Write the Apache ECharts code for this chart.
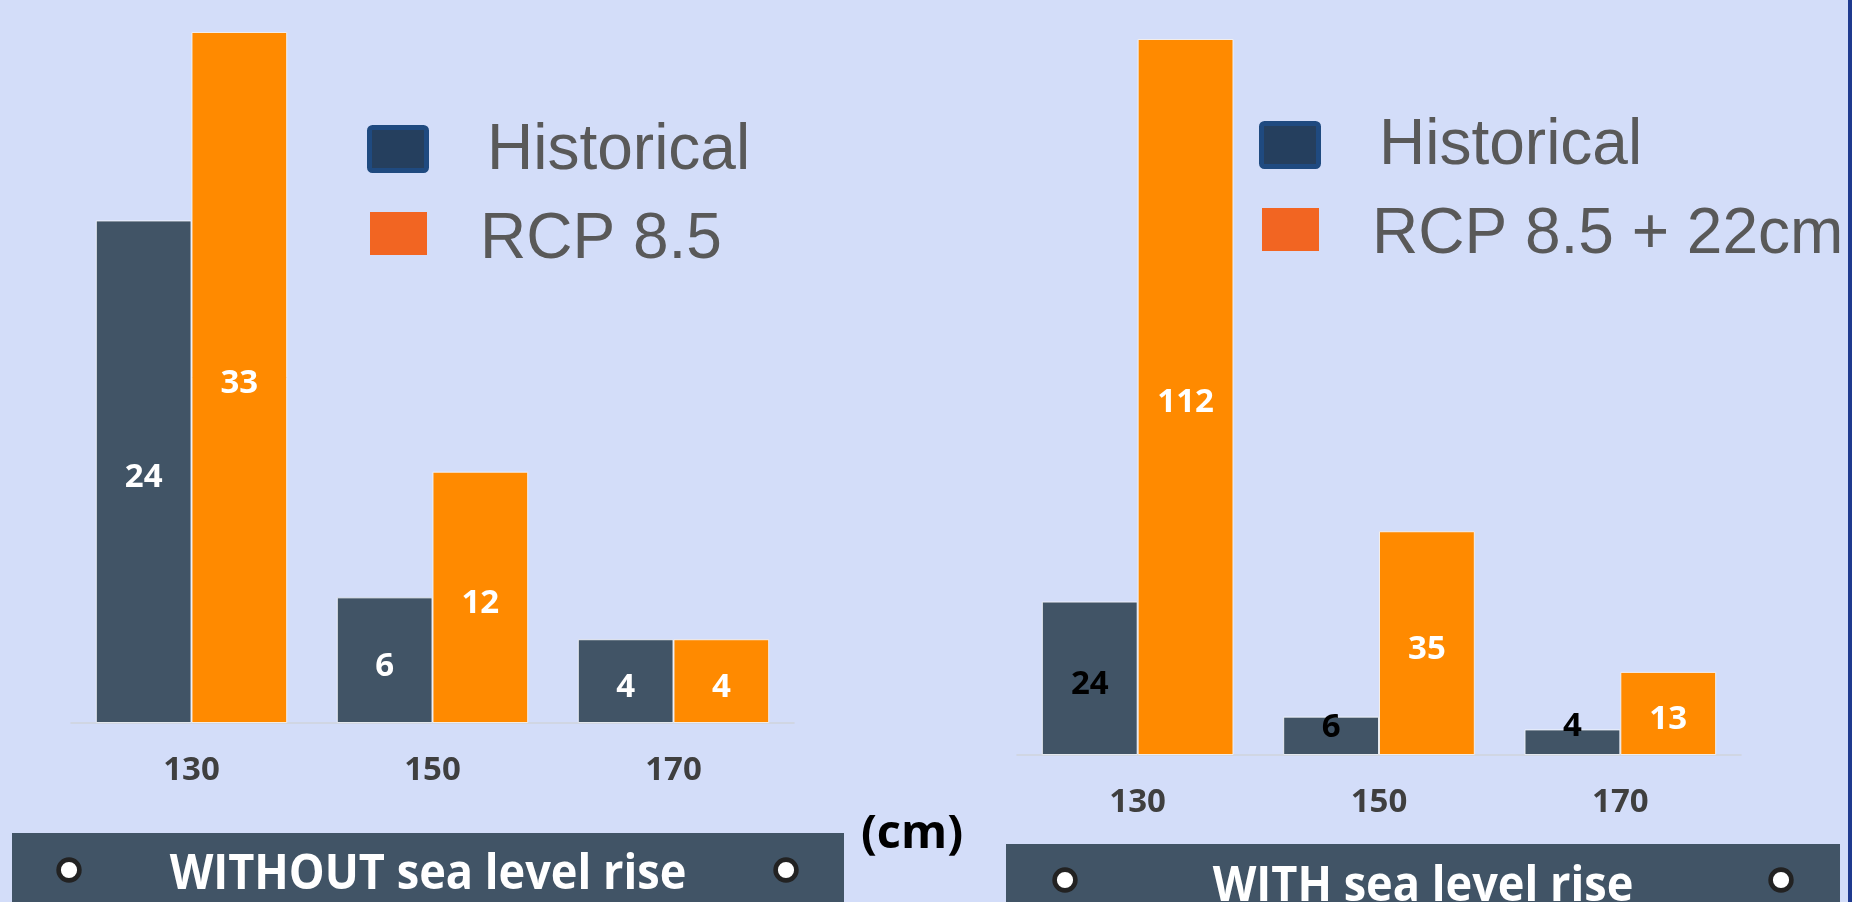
<!DOCTYPE html>
<html>
<head>
<meta charset="utf-8">
<title>Flood days by threshold, with and without sea level rise</title>
<script src="https://cdn.jsdelivr.net/npm/echarts@6/dist/echarts.min.js"></script>
<style>
  html, body { margin: 0; padding: 0; background: #d3ddf9; }
  #chart { width: 1852px; height: 902px; }
</style>
</head>
<body>
<div id="chart"></div>
<script>
// Water level thresholds (cm) shown on both panels
const thresholds = ['130', '150', '170'];

// Left panel: without sea level rise
const historicalWithout = [24, 6, 4];
const rcpWithout = [33, 12, 4];

// Right panel: with sea level rise
const historicalWith = [24, 6, 4];
const rcpWith = [112, 35, 13];

const nameHistorical = 'Historical';
const nameRcp = 'RCP 8.5';
const nameRcpSlr = 'RCP 8.5 + 22cm';
const panelTitles = ['WITHOUT sea level rise', 'WITH sea level rise'];
const unitLabel = '(cm)';

// ---- styling ----
const BG = '#d3ddf9';
const SLATE = '#415466';
const ORANGE = '#ff8a00';
const LEGEND_TEXT = '#595959';
const BOLD_FONT = "'Open Sans', 'Noto Sans', sans-serif";
const LEGEND_FONT = "'Liberation Sans', Arial, sans-serif";

// vertical nudge of value labels; small bars on the right carry theirs higher
const LABEL_DROP = 6;
const rightHistLabelLift = [LABEL_DROP, -8, -16];

function barSeries(name, values, gridIdx, color, labelColor, lifts) {
  return {
    type: 'bar',
    name: name,
    xAxisIndex: gridIdx,
    yAxisIndex: gridIdx,
    barGap: '0%',
    barCategoryGap: '20.6%',
    itemStyle: { color: color, borderColor: 'rgba(245,247,252,0.85)', borderWidth: 1 },
    label: {
      show: true,
      position: 'inside',
      offset: [0, LABEL_DROP],
      color: labelColor,
      fontFamily: BOLD_FONT,
      fontWeight: 'bold',
      fontSize: 33
    },
    data: values.map((v, i) => lifts ? { value: v, label: { offset: [0, lifts[i]] } } : v)
  };
}

function categoryAxis(gridIdx) {
  return {
    type: 'category',
    gridIndex: gridIdx,
    data: thresholds,
    axisTick: { show: false },
    axisLine: { lineStyle: { color: '#cfd3dc', width: 1.5 } },
    axisLabel: {
      color: '#3f3f3f',
      fontFamily: BOLD_FONT,
      fontWeight: 'bold',
      fontSize: 33,
      margin: 31
    }
  };
}

function valueAxis(gridIdx, maxVal) {
  return {
    type: 'value',
    gridIndex: gridIdx,
    min: 0,
    max: maxVal,
    show: false,
    splitLine: { show: false }
  };
}

// legend block: swatches + names
function legendBlock(x, swatchX, yTop, yMid1, yMid2, label1, label2) {
  return [
    {
      type: 'rect',
      shape: { x: swatchX + 2.5, y: yTop + 2.5, width: 57, height: 43, r: 3 },
      style: { fill: '#253f5e', stroke: '#1f4a80', lineWidth: 5 }
    },
    {
      type: 'rect',
      shape: { x: swatchX + 3, y: yTop + 87, width: 57, height: 43 },
      style: { fill: '#f26522' }
    },
    {
      type: 'text', x: x + 7, y: yMid1,
      style: { text: label1, fill: LEGEND_TEXT, font: '64px ' + LEGEND_FONT, textVerticalAlign: 'middle', verticalAlign: 'middle' }
    },
    {
      type: 'text', x: x, y: yMid2,
      style: { text: label2, fill: LEGEND_TEXT, font: '64px ' + LEGEND_FONT, textVerticalAlign: 'middle', verticalAlign: 'middle' }
    }
  ];
}

function banner(x, y, w, textCenterY, dotY, title, dotL, dotR) {
  return [
    { type: 'rect', shape: { x: x, y: y, width: w, height: 902 - y }, style: { fill: SLATE } },
    { type: 'circle', shape: { cx: dotL, cy: dotY, r: 10.4 }, style: { fill: '#ffffff', stroke: '#222222', lineWidth: 4.6 } },
    { type: 'circle', shape: { cx: dotR, cy: dotY, r: 10.4 }, style: { fill: '#ffffff', stroke: '#222222', lineWidth: 4.6 } },
    {
      type: 'text', x: x + w / 2, y: textCenterY,
      scaleX: 0.94,
      style: {
        text: title, fill: '#ffffff',
        font: 'bold 48px ' + BOLD_FONT,
        align: 'center', textAlign: 'center',
        verticalAlign: 'middle', textVerticalAlign: 'middle'
      }
    }
  ];
}

const chart = echarts.init(document.getElementById('chart'), null, { renderer: 'canvas' });

const option = {
  backgroundColor: BG,
  animation: false,
  grid: [
    { left: 71, top: 32, width: 723, height: 691 },
    { left: 1017, top: 39, width: 724, height: 716 }
  ],
  xAxis: [categoryAxis(0), categoryAxis(1)],
  yAxis: [valueAxis(0, Math.max(...rcpWithout)), valueAxis(1, Math.max(...rcpWith))],
  series: [
    barSeries(nameHistorical, historicalWithout, 0, SLATE, '#ffffff'),
    barSeries(nameRcp, rcpWithout, 0, ORANGE, '#ffffff'),
    barSeries(nameHistorical, historicalWith, 1, SLATE, '#000000', rightHistLabelLift),
    barSeries(nameRcpSlr, rcpWith, 1, ORANGE, '#ffffff')
  ],
  graphic: [
    // legends
    ...legendBlock(480, 367, 125, 151, 240, nameHistorical, nameRcp),
    ...legendBlock(1372, 1259, 121, 146, 235, nameHistorical, nameRcpSlr),
    // panel captions
    ...banner(12, 833, 832, 875, 870, panelTitles[0], 69, 786),
    ...banner(1006, 844, 834, 887, 880, panelTitles[1], 1065, 1781),
    // unit label between panels
    {
      type: 'text', x: 912, y: 835,
      style: {
        text: unitLabel, fill: '#000000',
        font: 'bold 47px ' + BOLD_FONT,
        align: 'center', textAlign: 'center',
        verticalAlign: 'middle', textVerticalAlign: 'middle'
      }
    },
    // slide edge on the right
    { type: 'rect', shape: { x: 1848, y: 0, width: 4, height: 902 }, style: { fill: '#1f3a8f' } }
  ]
};

chart.setOption(option);
</script>
</body>
</html>
